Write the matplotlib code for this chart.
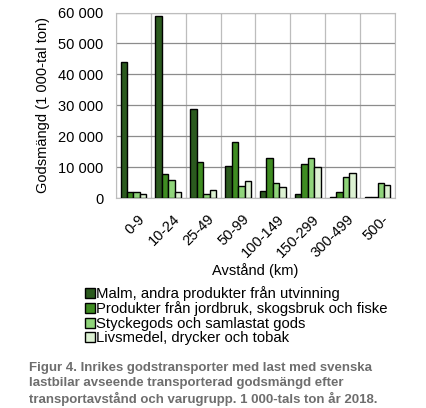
import numpy as np
import matplotlib.pyplot as plt

plt.rcParams['font.family'] = ['Liberation Sans', 'DejaVu Sans']

# Data (1 000-tal ton)
categories = ['0-9', '10-24', '25-49', '50-99', '100-149', '150-299', '300-499', '500-']
malm = [44000, 58900, 28900, 10400, 2400, 1300, 400, 200]
jordbruk = [2100, 7700, 11800, 18200, 12900, 11000, 1900, 300]
styckegods = [1900, 5800, 1400, 4000, 4800, 12800, 6700, 5000]
livsmedel = [1300, 1900, 2500, 5400, 3700, 9900, 8000, 4100]

series = [
    ('Malm, andra produkter från utvinning', malm, '#2b5a1e'),
    ('Produkter från jordbruk, skogsbruk och fiske', jordbruk, '#3f8c22'),
    ('Styckegods och samlastat gods', styckegods, '#8fd47a'),
    ('Livsmedel, drycker och tobak', livsmedel, '#dcf1d2'),
]

fig = plt.figure(figsize=(4.27, 4.08), dpi=100)
ax = fig.add_axes([116/427, 1 - 198/408, (395 - 116)/427, (198 - 12.5)/408])

x = np.arange(len(categories))
w = 0.185
for i, (name, vals, col) in enumerate(series):
    ax.bar(x + (i - 1.5) * w, vals, w, color=col, edgecolor='black',
           linewidth=1.0, label=name, zorder=3)

ax.set_xlim(-0.5, len(categories) - 0.5)
ax.set_ylim(0, 60000)
ax.set_yticks(range(0, 60001, 10000))
ax.set_yticklabels(['0', '10 000', '20 000', '30 000', '40 000', '50 000', '60 000'],
                   fontsize=10.5)
ax.set_xticks(x + 0.12)
ax.set_xticklabels(categories, rotation=45, ha='right', rotation_mode='anchor',
                   fontsize=10.5)
ax.tick_params(axis='y', length=0, pad=9)
ax.tick_params(axis='x', length=0, pad=10)

# grid: horizontal at y ticks, vertical at category boundaries
ax.set_xticks(np.arange(-0.5, len(categories)), minor=True)
ax.tick_params(axis='x', which='minor', length=0)
ax.grid(axis='y', color='#8c8c8c', linewidth=0.9, zorder=0)
ax.grid(axis='x', which='minor', color='#bdbdbd', linewidth=0.9, zorder=0)
ax.grid(axis='x', which='major', visible=False)
for s in ax.spines.values():
    s.set_color('#bdbdbd')

ax.set_ylabel('Godsmängd (1 000-tal ton)', fontsize=10.5, labelpad=6)
ax.set_xlabel('Avstånd (km)', fontsize=10.5, labelpad=2)

fig.legend(loc='upper left', bbox_to_anchor=(79/427, 1 - 280/408), frameon=False,
           fontsize=10.7, handlelength=0.65, handleheight=0.65, handletextpad=0.12,
           labelspacing=0.03, borderaxespad=0)

fig.text(29/427, 1 - 362/408,
         'Figur 4. Inrikes godstransporter med last med svenska\n'
         'lastbilar avseende transporterad godsmängd efter\n'
         'transportavstånd och varugrupp. 1 000-tals ton år 2018.',
         fontsize=9.5, fontweight='bold', color='#6e6e6e', va='top', linespacing=1.28)

fig.savefig('out.png', dpi=100)
